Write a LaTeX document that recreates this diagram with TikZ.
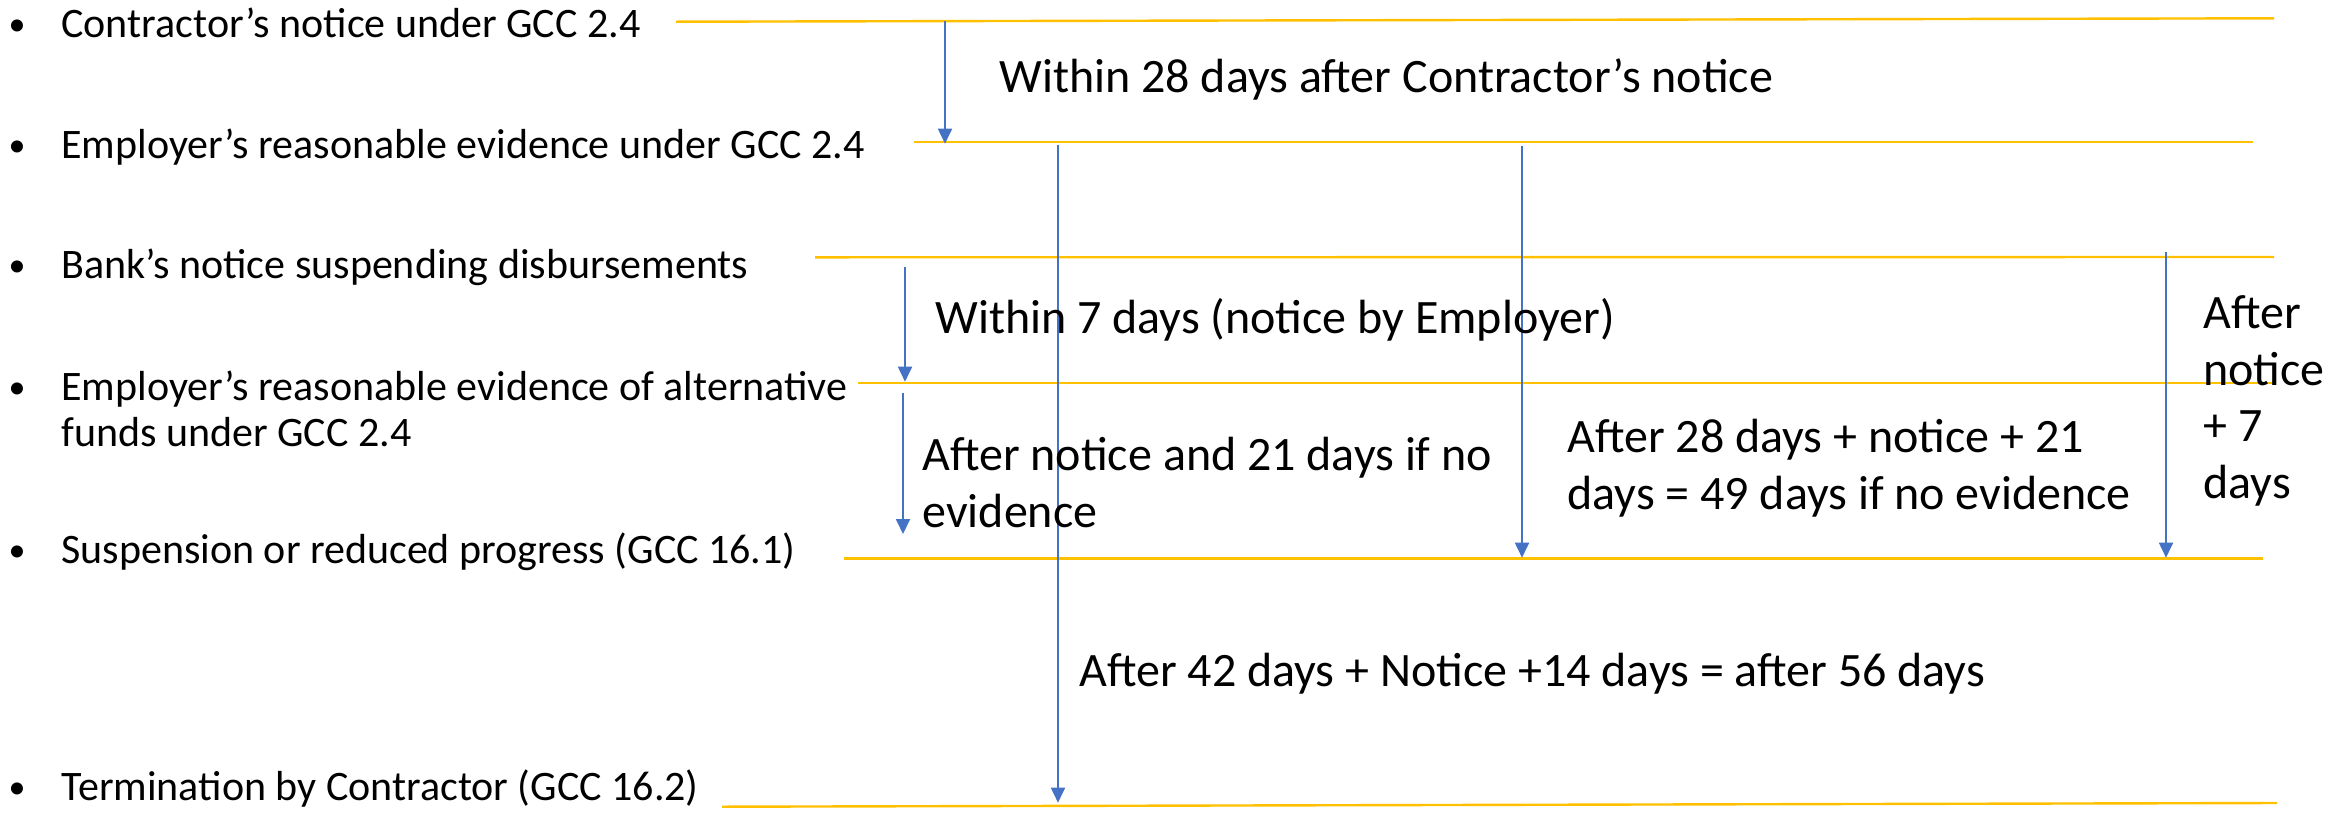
\documentclass[tikz,border=0pt]{standalone}
\usepackage{fontspec}
\setmainfont{Carlito}
\usepackage{xcolor}
\usetikzlibrary{arrows.meta}
\definecolor{gold}{RGB}{255,192,0}
\definecolor{steel}{RGB}{68,114,196}
\tikzset{
  stage/.style={anchor=base west,inner sep=0pt,align=left,
    font=\fontsize{21pt}{23pt}\selectfont},
  dot/.style={anchor=base,inner sep=0pt,font=\fontsize{17pt}{20pt}\selectfont},
  period/.style={anchor=base west,inner sep=0pt,align=left,
    font=\fontsize{24pt}{28.3pt}\selectfont},
  stageline/.style={draw=gold,line width=1.2pt},
  delay/.style={draw=steel,line width=0.9pt,-{Triangle[length=7.5pt,width=7pt]}}
}
\begin{document}
\begin{tikzpicture}[x=0.5pt,y=-0.5pt]
      \useasboundingbox (0,0) rectangle (2351,815);
      \node[dot] (b1) at (17,35) {\textbullet};
      \node[dot] (b2) at (17,156) {\textbullet};
      \node[dot] (b3) at (17,276) {\textbullet};
      \node[dot] (b4) at (17,398) {\textbullet};
      \node[dot] (b5) at (17,561) {\textbullet};
      \node[dot] (b6) at (17,798) {\textbullet};
      \node[stage] (s1) at (61,37.3) {Contractor’s notice under GCC 2.4};
      \node[stage] (s2) at (61,158) {Employer’s reasonable evidence under GCC 2.4};
      \node[stage] (s3) at (61,278) {Bank’s notice suspending disbursements};
      \node[stage] (s4) at (61,446) {Employer’s reasonable evidence of alternative\\funds under GCC 2.4};
      \node[stage] (s5) at (61,563) {Suspension or reduced progress (GCC 16.1)};
      \node[stage] (s6) at (61,800) {Termination by Contractor (GCC 16.2)};
      \coordinate (l1w) at (676,21.7);  \coordinate (l1e) at (2274,18.3);
      \coordinate (l2w) at (914,141.7); \coordinate (l2e) at (2253,141.7);
      \coordinate (l3w) at (815,257.3); \coordinate (l3e) at (2274,257);
      \coordinate (l4w) at (858,382.7); \coordinate (l4e) at (2274,382.7);
      \coordinate (l5w) at (844,558.3); \coordinate (l5e) at (2263,558.3);
      \coordinate (l6w) at (722,806.7); \coordinate (l6e) at (2277,803);
      \draw[stageline] (l1w) -- (l1e);
      \draw[stageline] (l2w) -- (l2e);
      \draw[stageline] (l3w) -- (l3e);
      \draw[stageline] (l4w) -- (l4e);
      \draw[stageline] (l5w) -- (l5e);
      \draw[stageline] (l6w) -- (l6e);
      \coordinate (a1s) at (945,21);   \coordinate (a1e) at (945,143.7);
      \coordinate (a2s) at (1058,145); \coordinate (a2e) at (1058,802.7);
      \coordinate (a3s) at (1522,146); \coordinate (a3e) at (1522,557.7);
      \coordinate (a4s) at (2166,252); \coordinate (a4e) at (2166,557.7);
      \coordinate (a5s) at (905,267);  \coordinate (a5e) at (905,381.7);
      \coordinate (a6s) at (903,393);  \coordinate (a6e) at (903,534);
      \draw[delay] (a1s) -- (a1e);
      \draw[delay] (a2s) -- (a2e);
      \draw[delay] (a3s) -- (a3e);
      \draw[delay] (a4s) -- (a4e);
      \draw[delay] (a5s) -- (a5e);
      \draw[delay] (a6s) -- (a6e);
      \node[period] (p1) at (999,92.3) {Within 28 days after Contractor’s notice};
      \node[period] (p2) at (935,333.3) {Within 7 days (notice by Employer)};
      \node[period] (p3) at (922,527.3) {After notice and 21 days if no\\evidence};
      \node[period] (p4) at (1567,509.3) {After 28 days + notice + 21\\days = 49 days if no evidence};
      \node[period] (p5) at (2203,498.3) {After\\notice\\+ 7\\days};
      \node[period] (p6) at (1079,686.7) {After 42 days + Notice +14 days = after 56 days};
    \end{tikzpicture}
\end{document}
